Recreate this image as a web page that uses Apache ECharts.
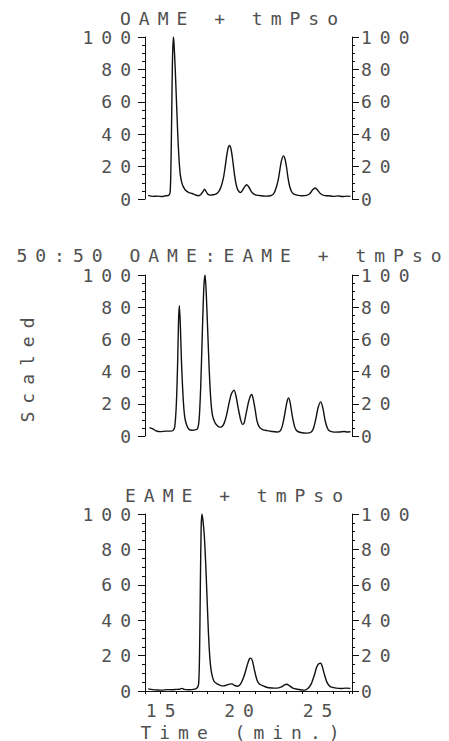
<!DOCTYPE html>
<html><head><meta charset="utf-8">
<script src="https://cdn.jsdelivr.net/npm/echarts@6/dist/echarts.min.js"></script>
<style>
html,body{margin:0;padding:0;background:#fff;}
#chart{width:449px;height:741px;}
#chart text{letter-spacing:8px;}
</style></head><body><div id="chart"></div>
<script>
const panelTitles = ['OAME + tmPso', '50:50 OAME:EAME + tmPso', 'EAME + tmPso'];
const yAxisTitle = 'Scaled';
const xAxisTitle = 'Time (min.)';
const xTickLabels = [15, 20, 25];

const timeOAME = [14.2,14.5,14.8,15.1,15.3,15.5,15.6,15.65,15.7,15.75,15.81,15.85,15.92,16.0,16.08,16.16,16.25,16.35,16.45,16.6,16.8,17.0,17.2,17.4,17.55,17.7,17.79,17.9,18.0,18.15,18.35,18.55,18.7,18.85,19.0,19.1,19.2,19.3,19.38,19.48,19.58,19.68,19.78,19.88,20.0,20.1,20.2,20.35,20.49,20.62,20.78,20.95,21.1,21.4,21.7,22.0,22.2,22.35,22.5,22.6,22.7,22.83,22.92,23.02,23.12,23.22,23.35,23.5,23.7,24.0,24.3,24.5,24.68,24.85,25.0,25.2,25.4,25.7,26.0,26.3,26.6,26.9,27.1];
const scaledOAME = [2.2,1.6,1.8,1.5,2.0,2.2,4,18,50,85,100,96,82,62,42,26,15,10,7.5,5.2,4.0,3.4,2.6,2.0,2.6,4.6,6.0,4.6,3.0,2.4,2.6,3.2,4.5,7.5,13,19,26,31.5,33,31,25,17,10.5,6.5,4.5,4.0,5.2,7.5,8.8,7.4,4.6,3.0,2.4,2.0,1.8,2.0,3.2,6.5,12,18,23.5,26.6,25,20,13,8,4.5,3.0,2.4,2.0,2.2,3.2,5.5,6.8,5.6,3.2,2.2,2.0,1.6,1.9,1.5,1.8,1.6];

const timeMix = [14.28,14.5,14.7,15.0,15.3,15.6,15.8,15.9,16.0,16.08,16.14,16.19,16.25,16.33,16.43,16.53,16.65,16.8,17.0,17.2,17.35,17.45,17.55,17.65,17.75,17.83,17.9,18.0,18.1,18.2,18.3,18.45,18.6,18.75,18.9,19.05,19.2,19.35,19.5,19.68,19.8,19.95,20.1,20.22,20.32,20.45,20.6,20.73,20.81,20.9,21.03,21.15,21.3,21.5,21.8,22.1,22.4,22.6,22.75,22.9,23.05,23.15,23.25,23.4,23.55,23.7,24.0,24.3,24.6,24.75,24.9,25.05,25.21,25.35,25.5,25.65,25.8,26.1,26.4,26.7,26.9,27.1];
const scaledMix = [5.2,4.5,3.2,2.7,3.0,3.0,3.5,6,20,45,72,81,70,45,24,12,7,4.2,3.6,3.8,4.5,10,30,62,92,100,90,65,40,22,13,8.5,6.5,5.5,5.8,8,13,20,26,28.5,25,17,10,7.2,8,14,21,25,25.8,23,16,9,5.5,4,3.3,2.8,2.5,3,6,13,21,23.7,21,12,5.5,3.0,2.0,1.8,2.5,5,11,18,21.2,17,9,4.5,3,2.4,2.5,2.8,2.5,2.6];

const timeEAME = [14.2,14.5,14.8,15.1,15.4,15.7,16.0,16.2,16.35,16.5,16.8,17.1,17.3,17.42,17.48,17.53,17.58,17.63,17.7,17.78,17.87,17.96,18.05,18.15,18.25,18.4,18.6,18.8,19.0,19.2,19.4,19.55,19.7,19.9,20.1,20.3,20.5,20.65,20.75,20.85,21.0,21.15,21.3,21.5,21.8,22.1,22.4,22.7,22.9,23.05,23.2,23.4,23.7,24.0,24.2,24.4,24.6,24.8,24.95,25.1,25.2,25.3,25.45,25.6,25.75,25.9,26.2,26.5,26.8,27.1];
const scaledEAME = [1.2,0.8,0.6,0.5,0.8,0.7,0.9,1.0,1.5,0.9,0.7,0.9,1.5,4,22,60,92,100,96,88,72,52,32,17,10,5.5,4.0,3.2,2.9,3.3,3.9,4.0,3.2,2.7,4,8,14,18,18.6,17,11,6,4,3,2,1.7,1.6,2.3,3.4,3.8,3.0,1.8,1.0,0.6,0.5,1.5,4,9,13.5,15.5,15.7,14,9,5,3,2.2,1.6,1.4,1.6,1.5];

const FONT = 'DejaVu Sans Mono';
const TXT = '#505050';
const FS = 18;
const grids = [
  {left: 145, top: 37, width: 207, height: 162},
  {left: 145, top: 275, width: 207, height: 161},
  {left: 145, top: 514, width: 207, height: 177}
];
const titleCenters = [[233, 18], [233, 255], [238, 495]];
const panelData = [[timeOAME, scaledOAME], [timeMix, scaledMix], [timeEAME, scaledEAME]];

const chart = echarts.init(document.getElementById('chart'), null, {renderer: 'svg'});

const xAxis = grids.map((g, i) => ({
  type: 'value', gridIndex: i, min: 14, max: 27.2, interval: 1,
  show: i === 2,
  axisLine: {show: i === 2, lineStyle: {color: '#111', width: 1}},
  axisTick: {show: true, length: 3, inside: false, lineStyle: {color: '#111'}},
  axisLabel: {
    show: true, interval: 0, margin: 10, color: TXT, fontFamily: FONT, fontSize: FS,
    padding: [0, 0, 0, 8],
    formatter: v => xTickLabels.includes(v) ? String(v) : ''
  },
  splitLine: {show: false}
}));

const yAxis = [];
grids.forEach((g, i) => {
  ['left', 'right'].forEach(pos => {
    yAxis.push({
      type: 'value', gridIndex: i, position: pos, min: 0, max: 100, interval: 20,
      axisLine: {show: true, lineStyle: {color: '#111', width: 1}},
      axisTick: {show: true, length: 7, inside: false, lineStyle: {color: '#111'}},
      minorTick: {show: true, splitNumber: 4, length: 3, lineStyle: {color: '#111'}},
      axisLabel: {
        show: true, margin: pos === 'left' ? 6 : 9, color: TXT, fontFamily: FONT, fontSize: FS
      },
      splitLine: {show: false}, minorSplitLine: {show: false}
    });
  });
});

const series = panelData.map((d, i) => ({
  type: 'line', xAxisIndex: i, yAxisIndex: 2 * i,
  data: d[0].map((t, k) => [t, d[1][k]]),
  showSymbol: false, smooth: 0.25,
  lineStyle: {color: '#111', width: 1.4},
  silent: true
}));

const graphic = panelTitles.map((t, i) => ({
  type: 'text', x: titleCenters[i][0], y: titleCenters[i][1],
  style: {text: t, fill: TXT, font: FS + 'px "' + FONT + '"', align: 'center', verticalAlign: 'middle'}
}));
graphic.push({
  type: 'text', x: 27, y: 366, rotation: Math.PI / 2,
  style: {text: yAxisTitle, fill: TXT, font: FS + 'px "' + FONT + '"', align: 'center', verticalAlign: 'middle'}
});
graphic.push({
  type: 'text', x: 244, y: 732,
  style: {text: xAxisTitle, fill: TXT, font: FS + 'px "' + FONT + '"', align: 'center', verticalAlign: 'middle'}
});

chart.setOption({
  animation: false,
  backgroundColor: '#fff',
  grid: grids,
  xAxis: xAxis,
  yAxis: yAxis,
  series: series,
  graphic: graphic
});
</script></body></html>
